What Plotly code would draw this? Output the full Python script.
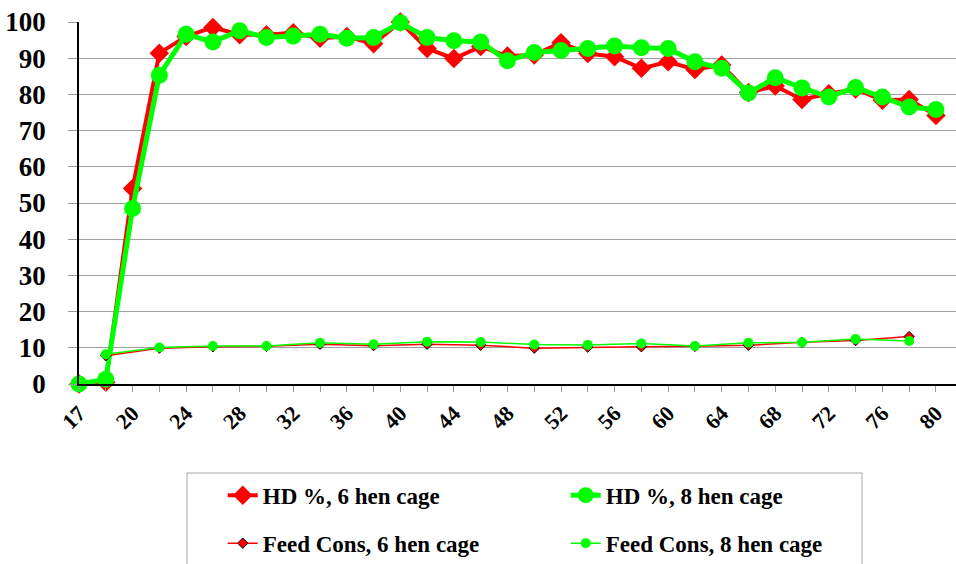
import plotly.graph_objects as go

weeks = ["17", "18"] + [str(w) for w in range(20, 81, 2)]

hd6 = [0, 0.5, 54, 91.4, 96, 98.5, 96.5, 96.5, 97, 95.5, 96, 94,
       100, 92.7, 89.9, 93.2, 90.6, 90.9, 94.3, 91.3, 90.4, 87.2, 89,
       86.9, 88.1, 80.5, 82.3, 78.6, 80.2, 81.5, 78.4, 78.6, 74.2]
hd8 = [0, 1.3, 48.5, 85.3, 96.6, 94.5, 97.6, 95.7, 96.1, 96.6, 95.5, 95.7,
       99.8, 95.7, 94.8, 94.5, 89.3, 91.6, 92.1, 92.7, 93.4, 92.9, 92.7,
       89.0, 87.2, 80.4, 84.6, 81.8, 79.3, 81.9, 79.3, 76.5, 75.8]

feed_weeks = ["18"] + [str(w) for w in range(22, 79, 4)]
feed6 = [7.8, 9.9, 10.3, 10.4, 11.0, 10.6, 11.0, 10.7, 9.9, 10.2, 10.3,
         10.4, 10.7, 11.5, 12.0, 13.1]
feed8 = [8.2, 10.1, 10.5, 10.5, 11.4, 11.0, 11.7, 11.6, 10.9, 10.8, 11.2,
         10.5, 11.4, 11.5, 12.4, 11.9]

yticks = list(range(0, 101, 10))
xticktext = [w if i % 2 == 0 else "" for i, w in enumerate(weeks)]

RED = "#FF0000"
GREEN = "#00FF00"
FONT = "Liberation Serif"

fig = go.Figure()
fig.add_trace(go.Scatter(
    x=weeks, y=hd6, mode="lines+markers", name="<b>HD %, 6 hen cage</b>",
    line=dict(color=RED, width=4),
    marker=dict(symbol="diamond", size=15, color=RED),
    cliponaxis=False, legend="legend"))
fig.add_trace(go.Scatter(
    x=weeks, y=hd8, mode="lines+markers", name="<b>HD %, 8 hen cage</b>",
    line=dict(color=GREEN, width=5),
    marker=dict(symbol="circle", size=17, color=GREEN),
    cliponaxis=False, legend="legend"))
fig.add_trace(go.Scatter(
    x=feed_weeks, y=feed6, mode="lines+markers", name="<b>Feed Cons, 6 hen cage</b>",
    line=dict(color=RED, width=1.5),
    marker=dict(symbol="diamond", size=8, color=RED,
                line=dict(color="black", width=1)),
    cliponaxis=False, legend="legend2"))
fig.add_trace(go.Scatter(
    x=feed_weeks, y=feed8, mode="lines+markers", name="<b>Feed Cons, 8 hen cage</b>",
    line=dict(color=GREEN, width=1.5),
    marker=dict(symbol="circle", size=10, color=GREEN),
    cliponaxis=False, legend="legend2"))

legend_font = dict(family=FONT, size=23, color="black")

fig.update_layout(
    width=956, height=564,
    margin=dict(l=79, r=0, t=22, b=180),
    paper_bgcolor="white", plot_bgcolor="white",
    font=dict(family=FONT, color="black"),
    showlegend=True,
    legend=dict(orientation="h", xref="container", yref="container",
                x=0.233, y=0.160, xanchor="left", yanchor="top",
                entrywidth=298, entrywidthmode="pixels",
                font=legend_font, bgcolor="rgba(0,0,0,0)",
                itemwidth=30, tracegroupgap=0),
    legend2=dict(orientation="h", xref="container", yref="container",
                 x=0.233, y=0.075, xanchor="left", yanchor="top",
                 entrywidth=298, entrywidthmode="pixels",
                 font=legend_font, bgcolor="rgba(0,0,0,0)",
                 itemwidth=30, tracegroupgap=0),
    shapes=[dict(type="rect", xref="paper", yref="paper",
                 x0=(187 - 79) / 877, x1=(862 - 79) / 877,
                 y0=-(570 - 22) / 362, y1=-(473 - 22) / 362 + 1,
                 line=dict(color="#A6A6A6", width=1), fillcolor="rgba(0,0,0,0)",
                 layer="below")],
)

fig.update_xaxes(
    type="category", categoryorder="array", categoryarray=weeks,
    range=[0, 32.75],
    tickmode="array", tickvals=weeks,
    ticktext=["<b>%s</b>" % t if t else "" for t in xticktext],
    tickangle=-45,
    tickfont=dict(family=FONT, size=22, color="black"),
    ticks="outside", ticklen=6, tickcolor="#999999", tickwidth=1,
    showline=True, linecolor="black", linewidth=1.5,
    showgrid=False, zeroline=False,
)
fig.update_yaxes(
    range=[0, 100], tickmode="array", tickvals=yticks,
    ticktext=["<b>%d</b>" % v for v in yticks],
    tickfont=dict(family=FONT, size=27, color="black"),
    ticks="outside", ticklen=9, tickcolor="#999999", tickwidth=1,
    showline=True, linecolor="black", linewidth=1.5,
    showgrid=True, gridcolor="#A0A0A0", gridwidth=1,
    zeroline=False, ticklabelstandoff=17,
)

fig.write_html("out.html")
